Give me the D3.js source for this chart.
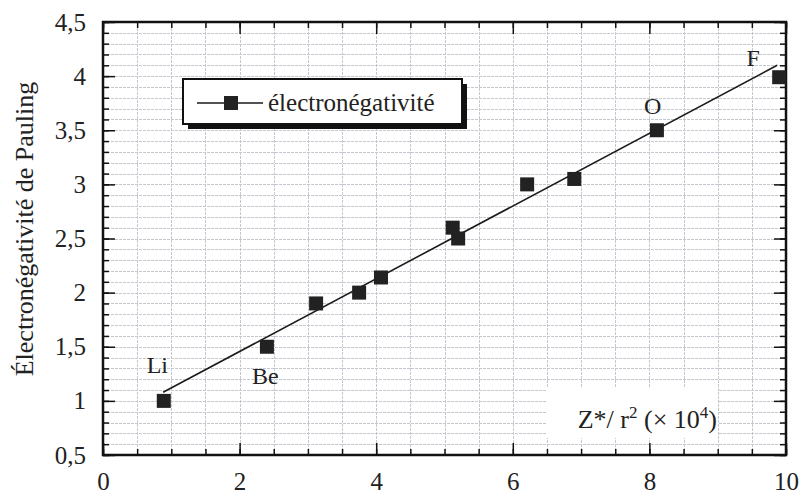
<!DOCTYPE html>
<html>
<head>
<meta charset="utf-8">
<script src="https://cdn.jsdelivr.net/npm/d3@7"></script>
<style>
  body { margin: 0; background: #fff; }
  svg { display: block; font-family: "Liberation Serif", "DejaVu Serif", serif; }
</style>
</head>
<body>
<script>
var width = 801,
    height = 500;

var margin = { top: 22, right: 15, bottom: 45, left: 103 };

// data
var zr2 = [0.89, 2.40, 3.12, 3.75, 4.07, 5.12, 5.20, 6.21, 6.90, 8.11, 9.90];
var pauling = [1.00, 1.50, 1.90, 2.00, 2.14, 2.60, 2.50, 3.00, 3.05, 3.50, 3.99];
var fitX = [0.88, 9.87];
var fitY = [1.08, 4.10];
var elements = ['Li', 'Be', 'O', 'F'];
var elementX = [0.64, 2.18, 7.92, 9.42];
var elementY = [1.26, 1.16, 3.65, 4.09];
var xMajor = [0, 2, 4, 6, 8, 10];
var yMajor = [0.5, 1, 1.5, 2, 2.5, 3, 3.5, 4, 4.5];
var xDomain = [0, 10];
var yDomain = [0.5, 4.5];
var legendLabel = 'électronégativité';
var yTitle = 'Électronégativité de Pauling';

var x = d3.scaleLinear().domain(xDomain).range([margin.left, width - margin.right]);
var y = d3.scaleLinear().domain(yDomain).range([height - margin.bottom, margin.top]);

var xMinor = d3.range(xDomain[0], xDomain[1] + 0.001, 0.5);
var yMinor = d3.range(yDomain[0], yDomain[1] + 0.001, 0.1).map(function(v) { return +v.toFixed(1); });

var comma = function(v) { return String(v).replace('.', ','); };

var svg = d3.select('body').append('svg')
    .attr('xmlns', 'http://www.w3.org/2000/svg')
    .attr('width', width)
    .attr('height', height);

var x0 = x.range()[0], x1 = x.range()[1],
    y0 = y.range()[0], y1 = y.range()[1];

// grid
var grid = svg.append('g')
    .attr('stroke', '#c4c8cf')
    .attr('stroke-width', 1)
    .attr('stroke-dasharray', '3,1');

grid.selectAll('line.h').data(yMinor.slice(1, -1)).enter().append('line')
    .attr('class', 'h')
    .attr('x1', x0).attr('x2', x1)
    .attr('y1', function(d) { return Math.round(y(d)) + 0.5; })
    .attr('y2', function(d) { return Math.round(y(d)) + 0.5; });

grid.selectAll('line.v').data(xMinor.slice(1, -1)).enter().append('line')
    .attr('class', 'v')
    .attr('y1', y0).attr('y2', y1)
    .attr('x1', function(d) { return Math.round(x(d)) + 0.5; })
    .attr('x2', function(d) { return Math.round(x(d)) + 0.5; });

// white box behind the x-axis title
svg.append('rect')
    .attr('x', 546).attr('y', 388)
    .attr('width', 172).attr('height', 50)
    .attr('fill', '#fff');

svg.append('text')
    .attr('x', 717).attr('y', 428)
    .attr('text-anchor', 'end')
    .attr('font-family', '"Liberation Serif", serif')
    .attr('font-size', 26)
    .attr('fill', '#222')
    .html('Z*/ r<tspan dy="-10" font-size="17">2</tspan><tspan dy="10"> (× 10</tspan><tspan dy="-10" font-size="17">4</tspan><tspan dy="10">)</tspan>');

// axes with inward ticks, mirrored on all four sides
function styleAxis(g) {
  g.attr('font-family', '"Liberation Serif", serif');
  g.select('.domain').remove();
  g.selectAll('.tick line').attr('stroke', '#111').attr('stroke-width', 1.5);
  g.selectAll('.tick text').attr('font-size', 25).attr('fill', '#222');
}

svg.append('g').attr('transform', 'translate(0,' + y0 + ')')
    .call(d3.axisBottom(x).tickValues(xMinor).tickSize(-6).tickFormat(''))
    .call(styleAxis);
svg.append('g').attr('transform', 'translate(0,' + y0 + ')')
    .call(d3.axisBottom(x).tickValues(xMajor).tickSize(-12).tickPadding(17).tickFormat(comma))
    .call(styleAxis);
svg.append('g').attr('transform', 'translate(0,' + y1 + ')')
    .call(d3.axisTop(x).tickValues(xMinor).tickSize(-6).tickFormat(''))
    .call(styleAxis);
svg.append('g').attr('transform', 'translate(0,' + y1 + ')')
    .call(d3.axisTop(x).tickValues(xMajor).tickSize(-12).tickFormat(''))
    .call(styleAxis);

svg.append('g').attr('transform', 'translate(' + x0 + ',0)')
    .call(d3.axisLeft(y).tickValues(yMinor).tickSize(-6).tickFormat(''))
    .call(styleAxis);
svg.append('g').attr('transform', 'translate(' + x0 + ',0)')
    .call(d3.axisLeft(y).tickValues(yMajor).tickSize(-12).tickPadding(17).tickFormat(comma))
    .call(styleAxis);
svg.append('g').attr('transform', 'translate(' + x1 + ',0)')
    .call(d3.axisRight(y).tickValues(yMinor).tickSize(-6).tickFormat(''))
    .call(styleAxis);
svg.append('g').attr('transform', 'translate(' + x1 + ',0)')
    .call(d3.axisRight(y).tickValues(yMajor).tickSize(-12).tickFormat(''))
    .call(styleAxis);

// frame
svg.append('rect')
    .attr('x', x0).attr('y', y1)
    .attr('width', x1 - x0).attr('height', y0 - y1)
    .attr('fill', 'none')
    .attr('stroke', '#111')
    .attr('stroke-width', 2.5);

// fit line
svg.append('line')
    .attr('x1', x(fitX[0])).attr('y1', y(fitY[0]))
    .attr('x2', x(fitX[1])).attr('y2', y(fitY[1]))
    .attr('stroke', '#1a1a1a')
    .attr('stroke-width', 1.6);

// points
var sq = 14;
svg.selectAll('rect.pt').data(zr2).enter().append('rect')
    .attr('class', 'pt')
    .attr('x', function(d) { return x(d) - sq / 2; })
    .attr('y', function(d, i) { return y(pauling[i]) - sq / 2; })
    .attr('width', sq).attr('height', sq)
    .attr('fill', '#222');

// element labels
svg.selectAll('text.el').data(elements).enter().append('text')
    .attr('class', 'el')
    .attr('x', function(d, i) { return x(elementX[i]); })
    .attr('y', function(d, i) { return y(elementY[i]); })
    .attr('font-size', 24)
    .attr('fill', '#222')
    .text(function(d) { return d; });

// legend
var lg = svg.append('g');
lg.append('rect')
    .attr('x', 188).attr('y', 84).attr('width', 279).attr('height', 45)
    .attr('fill', '#111');
lg.append('rect')
    .attr('x', 183).attr('y', 79).attr('width', 279).attr('height', 45)
    .attr('fill', '#fff').attr('stroke', '#111').attr('stroke-width', 2);
lg.append('line')
    .attr('x1', 197).attr('x2', 263).attr('y1', 103).attr('y2', 103)
    .attr('stroke', '#1a1a1a').attr('stroke-width', 1.6);
lg.append('rect')
    .attr('x', 231 - sq / 2).attr('y', 103 - sq / 2)
    .attr('width', sq).attr('height', sq)
    .attr('fill', '#222');
lg.append('text')
    .attr('x', 268).attr('y', 111)
    .attr('font-size', 25)
    .attr('fill', '#222')
    .text(legendLabel);

// y-axis title
svg.append('text')
    .attr('transform', 'translate(33,229) rotate(-90)')
    .attr('text-anchor', 'middle')
    .attr('font-size', 26)
    .attr('fill', '#222')
    .text(yTitle);
</script>
</body>
</html>
